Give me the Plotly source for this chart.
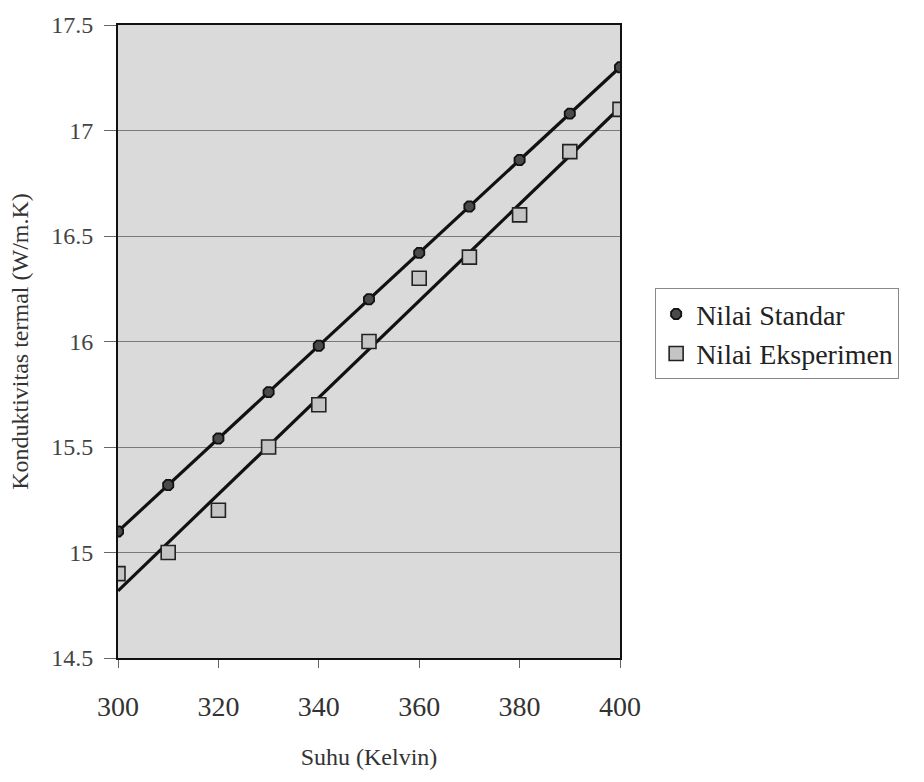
import numpy as np
import plotly.graph_objects as go

suhu = [300, 310, 320, 330, 340, 350, 360, 370, 380, 390, 400]
nilai_standar = [15.10, 15.32, 15.54, 15.76, 15.98, 16.20, 16.42, 16.64, 16.86, 17.08, 17.30]
nilai_eksperimen = [14.90, 15.00, 15.20, 15.50, 15.70, 16.00, 16.30, 16.40, 16.60, 16.90, 17.10]
x_ticks = [300, 320, 340, 360, 380, 400]
y_ticks = [14.5, 15, 15.5, 16, 16.5, 17, 17.5]
y_tick_text = ["14.5", "15", "15.5", "16", "16.5", "17", "17.5"]

FONT = "Liberation Serif"

x_arr = np.array(suhu, dtype=float)
fit_std = np.polyfit(x_arr, nilai_standar, 1)
fit_exp = np.polyfit(x_arr, nilai_eksperimen, 1)
x_line = np.array([min(suhu), max(suhu)], dtype=float)

fig = go.Figure()
fig.add_trace(go.Scatter(x=x_line, y=np.polyval(fit_std, x_line), mode="lines",
                         line=dict(color="#111111", width=3.2), showlegend=False, hoverinfo="skip"))
fig.add_trace(go.Scatter(x=x_line, y=np.polyval(fit_exp, x_line), mode="lines",
                         line=dict(color="#111111", width=3.2), showlegend=False, hoverinfo="skip"))
fig.add_trace(go.Scatter(x=suhu, y=nilai_standar, mode="markers", name="Nilai Standar",
                         marker=dict(symbol="octagon", size=11, color="#4a4a4a",
                                     line=dict(color="#111111", width=1.8))))
fig.add_trace(go.Scatter(x=suhu, y=nilai_eksperimen, mode="markers", name="Nilai Eksperimen",
                         marker=dict(symbol="square", size=14, color="#c4c4c4",
                                     line=dict(color="#222222", width=1.6))))

fig.update_layout(
    width=924, height=782,
    margin=dict(l=118, r=304, t=20, b=124),
    paper_bgcolor="white",
    plot_bgcolor="#dadada",
    font=dict(family=FONT, color="#333333"),
    legend=dict(x=1.07, y=0.584, xanchor="left", yanchor="top",
                bordercolor="#888888", borderwidth=1, bgcolor="white",
                font=dict(family=FONT, size=28, color="#222222"),
                itemwidth=30, tracegroupgap=0),
)
fig.update_xaxes(range=[300, 400], tickvals=x_ticks, ticks="outside", ticklen=8,
                 tickcolor="#666666", showline=True, linecolor="#111111", linewidth=2,
                 mirror=True, showgrid=False, zeroline=False, ticklabelstandoff=14,
                 tickfont=dict(family=FONT, size=28, color="#333333"),
                 title=dict(text="Suhu (Kelvin)", font=dict(family=FONT, size=24, color="#333333"),
                            standoff=28))
fig.update_yaxes(range=[14.5, 17.5], tickvals=y_ticks, ticktext=y_tick_text, ticks="outside",
                 ticklen=12, tickcolor="#666666", showline=True, linecolor="#111111", linewidth=2,
                 mirror=True, showgrid=True, gridcolor="#7a7a7a", gridwidth=1, zeroline=False,
                 ticklabelstandoff=6,
                 tickfont=dict(family=FONT, size=24, color="#444444"),
                 title=dict(text="Konduktivitas termal (W/m.K)",
                            font=dict(family=FONT, size=24, color="#333333"), standoff=16))

fig.write_html("out.html")
